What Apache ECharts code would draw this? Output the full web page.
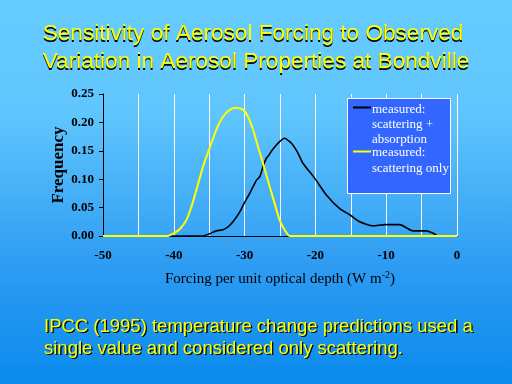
<!DOCTYPE html>
<html><head><meta charset="utf-8">
<script src="https://cdn.jsdelivr.net/npm/echarts@6/dist/echarts.min.js"></script>
<style>html,body{margin:0;padding:0;}#c{width:512px;height:384px;background:linear-gradient(to bottom,#66CCFF 0%,#5FC5FD 30%,#2D9BF2 70%,#0A8BEE 100%);}</style>
</head><body><div id="c"></div>
<script>
var titleLines = ['Sensitivity of Aerosol Forcing to Observed', 'Variation in Aerosol Properties at Bondville'];
var noteLines = ['IPCC (1995) temperature change predictions used a', 'single value and considered only scattering.'];
var seriesNames = ['measured:\nscattering +\nabsorption', 'measured:\nscattering only'];
var yTicks = [0, 0.05, 0.10, 0.15, 0.20, 0.25];
var xLabelTicks = [-50, -40, -30, -20, -10, 0];

var absX = [-40.8, -38.2, -35.9, -34.94, -34.0, -33.05, -32.35, -31.64, -30.7, -30.08, -29.28, -28.34, -27.87, -27.4, -26.93, -26.7, -25.99, -25.05, -24.34, -23.63, -23.17, -22.46, -21.76, -20.06, -18.45, -16.57, -15.11, -13.75, -11.87, -10.17, -8.1, -6.22, -4.33, -3.39, -2.92];
var absY = [0, 0, 0, 0.004, 0.009, 0.011, 0.016, 0.025, 0.042, 0.057, 0.075, 0.098, 0.104, 0.122, 0.137, 0.140, 0.153, 0.166, 0.172, 0.166, 0.160, 0.146, 0.128, 0.101, 0.072, 0.048, 0.037, 0.025, 0.018, 0.020, 0.020, 0.009, 0.009, 0.005, 0.002];

var scaX = [-50, -40.82, -40.11, -39.17, -38.23, -37.52, -36.81, -35.88, -35.03, -34.0, -33.05, -32.1, -31.16, -30.2, -29.52, -28.8, -28.1, -27.4, -26.46, -25.75, -25.05, -24.2, -23.6, 0];
var scaY = [0, 0, 0.004, 0.012, 0.028, 0.051, 0.081, 0.122, 0.152, 0.187, 0.210, 0.222, 0.226, 0.222, 0.210, 0.187, 0.157, 0.128, 0.087, 0.057, 0.028, 0.008, 0, 0];

function pairs(xs, ys){ return xs.map(function(x,i){ return [x, ys[i]]; }); }

var chart = echarts.init(document.getElementById('c'), null, {renderer:'canvas'});
function txt(lines, left, top, size, lh, color, align){
  return {type:'text', left:left, top:top, z:20,
    style:{text:lines.join('\n'), fill:color, font:size+'px "Liberation Sans"', lineHeight:lh, align:align||'left'}};
}
var tTop = 20, tSize = 22.6, tLH = 28;
var nTop = 316, nSize = 18.5, nLH = 22;
chart.setOption({
  animation:false,
  backgroundColor:'transparent',
  grid:{left:103, right:55, top:94, bottom:148, containLabel:false},
  xAxis:{
    type:'value', min:-50, max:0, interval:5,
    axisLine:{show:true, onZero:false, lineStyle:{color:'#000', width:1}},
    axisTick:{show:false},
    splitLine:{show:true, lineStyle:{color:'#FFFFFF', width:1}},
    axisLabel:{color:'#000', fontFamily:'Liberation Serif', fontWeight:'bold', fontSize:13, margin:13,
      formatter:function(v){ return xLabelTicks.indexOf(v) >= 0 ? String(v) : ''; }},
    name:'Forcing per unit optical depth (W m{sup|-2})', nameLocation:'middle', nameGap:34, nameMoveOverlap:false,
    nameTextStyle:{color:'#000', fontFamily:'Liberation Serif', fontSize:15,
      rich:{sup:{fontSize:10, fontFamily:'Liberation Serif', color:'#000', padding:[0,0,9,0]}}}
  },
  yAxis:{
    type:'value', min:0, max:0.25, interval:0.05,
    axisLine:{show:true, onZero:false, lineStyle:{color:'#000', width:1}},
    axisTick:{show:true, inside:false, length:4, lineStyle:{color:'#000'}},
    splitLine:{show:false},
    axisLabel:{color:'#000', fontFamily:'Liberation Serif', fontWeight:'bold', fontSize:13, margin:9,
      formatter:function(v){ return v.toFixed(2); }},
    name:'Frequency', nameLocation:'middle', nameGap:36, nameRotate:90, nameMoveOverlap:false,
    nameTextStyle:{color:'#000', fontFamily:'Liberation Serif', fontWeight:'bold', fontSize:17}
  },
  series:[{
    name: seriesNames[0], type:'line', data: pairs(absX, absY), showSymbol:false, smooth:0.2,
    lineStyle:{color:'#000000', width:1.6}, itemStyle:{color:'#000'}, z:3
  },{
    name: seriesNames[1], type:'line', data: pairs(scaX, scaY), showSymbol:false, smooth:0.2,
    lineStyle:{color:'#FFFF00', width:2}, itemStyle:{color:'#FFFF00'}, z:4
  }],
  graphic:[
    {type:'text', left:'center', top:tTop+1.3, z:19, style:{text:titleLines.join('\n'), fill:'#000', font:tSize+'px "Liberation Sans"', lineHeight:tLH, align:'center'}, x:1.3},
    {type:'text', left:'center', top:tTop, z:20, style:{text:titleLines.join('\n'), fill:'#FFFF00', font:tSize+'px "Liberation Sans"', lineHeight:tLH, align:'center'}},
    txt(noteLines, 45.3, nTop+1.3, nSize, nLH, '#000'),
    txt(noteLines, 44, nTop, nSize, nLH, '#FFFF00'),
    {type:'rect', shape:{x:347.5, y:98.5, width:103, height:95}, style:{fill:'#3366FF', stroke:'#FFFFFF', lineWidth:1}, z:10},
    {type:'line', shape:{x1:353, y1:107.5, x2:371, y2:107.5}, style:{stroke:'#000', lineWidth:2}, z:11},
    {type:'line', shape:{x1:353, y1:151.5, x2:371, y2:151.5}, style:{stroke:'#FFFF00', lineWidth:2}, z:11},
    {type:'text', left:372, top:102, z:11, style:{text:seriesNames[0], fill:'#fff', font:'13px "Liberation Serif"', lineHeight:15}},
    {type:'text', left:372, top:145, z:11, style:{text:seriesNames[1], fill:'#fff', font:'13px "Liberation Serif"', lineHeight:16}}
  ]
});
</script></body></html>
